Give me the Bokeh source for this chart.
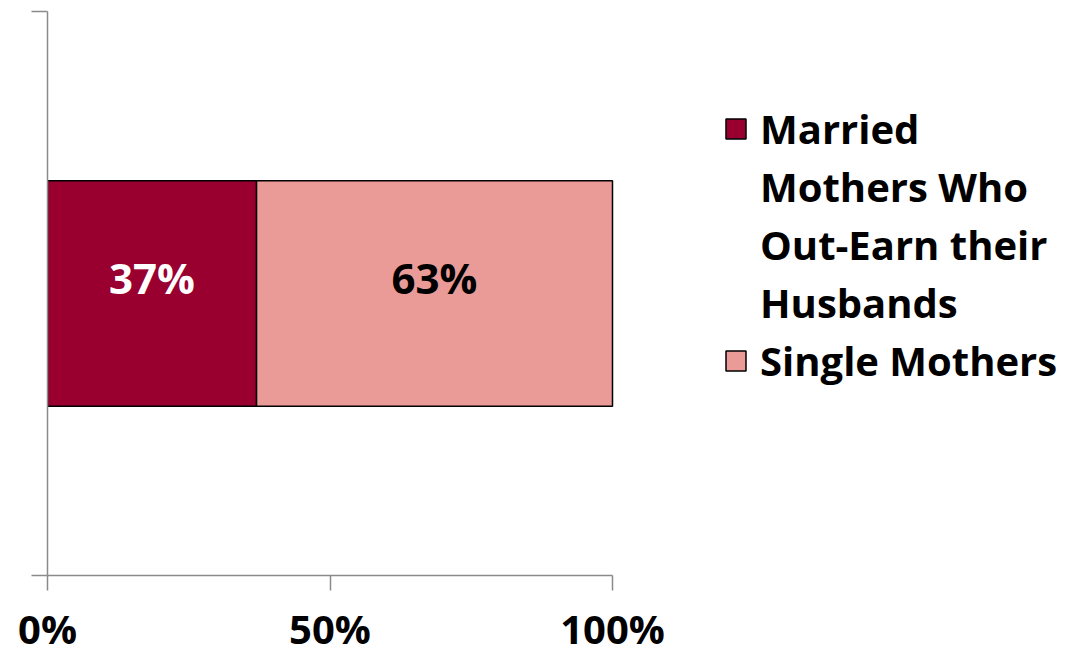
from bokeh.plotting import figure
from bokeh.models import Range1d, FixedTicker, Legend, LegendItem, ColumnDataSource
from bokeh.core.properties import value
from bokeh.embed import file_html
from bokeh.resources import INLINE

# ---- data ----
series = ["Married Mothers Who Out-Earn their Husbands", "Single Mothers"]
series_lines = [["Married", "Mothers Who", "Out-Earn their", "Husbands"], ["Single Mothers"]]
shares = [0.37, 0.63]
share_labels = ["37%", "63%"]
colors = ["#990030", "#EA9A97"]
label_colors = ["white", "black"]
x_ticks = [0, 0.5, 1.0]
x_tick_labels = ["0%", "50%", "100%"]
bar_pos = 0.5

FONT = "Open Sans"

lefts = [sum(shares[:i]) for i in range(len(shares))]
rights = [l + s for l, s in zip(lefts, shares)]
mids = [(l + r) / 2 for l, r in zip(lefts, rights)]

p = figure(width=1069, height=658, output_backend="svg", toolbar_location=None,
           x_range=Range1d(0, 1022 / 565), y_range=Range1d(0, 1),
           min_border_left=47, min_border_right=0, min_border_top=11, min_border_bottom=79)
p.outline_line_color = None
p.xgrid.visible = False
p.ygrid.visible = False
p.background_fill_color = "white"

# invisible renderer used only for continuation lines of a wrapped legend label
blank = p.hbar(y=[], left=[], right=[], height=0.4, fill_alpha=0, line_alpha=0)

items = []
for i in range(len(shares)):
    src = ColumnDataSource(dict(y=[bar_pos], left=[lefts[i]], right=[rights[i]]))
    r = p.hbar(y="y", left="left", right="right", height=0.4, source=src,
               fill_color=colors[i], line_color="black", line_width=1.5)
    for j, line in enumerate(series_lines[i]):
        items.append(LegendItem(label=line, renderers=[r if j == 0 else blank]))

lab_src = ColumnDataSource(dict(x=mids, y=[bar_pos] * len(mids), t=share_labels, c=label_colors))
p.text(x="x", y="y", text="t", source=lab_src, text_color="c",
       text_font=value(FONT), text_font_style="bold", text_font_size="42px",
       text_align="center", text_baseline="alphabetic", y_offset=-16)

# axes
xa = p.xaxis[0]
xa.ticker = FixedTicker(ticks=x_ticks)
xa.major_label_overrides = {t: l for t, l in zip(x_ticks, x_tick_labels)}
xa.bounds = (0, 1)
xa.major_tick_in = 0
xa.major_tick_out = 15
xa.minor_tick_line_color = None
xa.axis_line_color = "#8a8a8a"
xa.axis_line_width = 1.5
xa.major_tick_line_color = "#8a8a8a"
xa.major_tick_line_width = 1.5
xa.major_label_text_font = FONT
xa.major_label_text_font_style = "bold"
xa.major_label_text_font_size = "40px"
xa.major_label_text_color = "black"
xa.major_label_standoff = 10

ya = p.yaxis[0]
ya.ticker = FixedTicker(ticks=[0, 1])
ya.major_label_overrides = {0: "", 1: ""}
ya.bounds = (0, 1)
ya.major_tick_in = 0
ya.major_tick_out = 16
ya.minor_tick_line_color = None
ya.axis_line_color = "#8a8a8a"
ya.axis_line_width = 1.5
ya.major_tick_line_color = "#8a8a8a"
ya.major_tick_line_width = 1.5

legend = Legend(items=items, location=(676, 187), orientation="vertical",
                label_text_font=FONT, label_text_font_style="bold",
                label_text_font_size="40px", label_text_color="black",
                glyph_width=25, glyph_height=25, spacing=3, padding=0, margin=0,
                label_standoff=12, border_line_color=None, background_fill_alpha=0)
p.add_layout(legend)

open("out.html", "w").write(file_html(p, INLINE))
